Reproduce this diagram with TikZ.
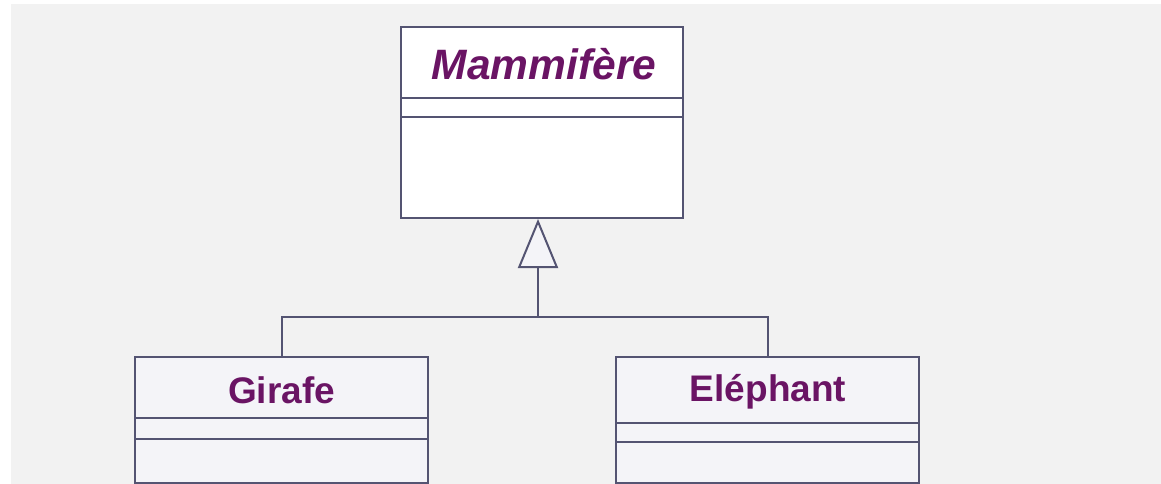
\documentclass[tikz,border=0pt]{standalone}
\usepackage{fontspec}
\setmainfont{Liberation Sans}
\usepackage{tikz}
\usetikzlibrary{arrows.meta}

\definecolor{umlline}{RGB}{84,84,114}
\definecolor{umltext}{RGB}{106,20,100}
\definecolor{papier}{RGB}{242,242,242}
\definecolor{classfill}{RGB}{244,244,248}

\begin{document}
\begin{tikzpicture}[x=1pt, y=-1pt,
    classbox/.style={draw=umlline, line width=2pt, fill=classfill, inner sep=0pt},
    classname/.style={text=umltext, anchor=base, inner sep=0pt,
        font=\fontsize{37}{40}\selectfont\bfseries},
    lien/.style={draw=umlline, line width=2pt}]
    % Fond (papier)
    \useasboundingbox (0,0) rectangle (1161,484);
    \fill[white] (0,0) rectangle (1161,484);
    \fill[papier] (11,4) rectangle (1161,484);

    % Classe abstraite
    \node[classbox, fill=white, minimum width=282pt, minimum height=191pt] (mam) at (542,122.5) {};
    \draw[lien] (mam.west |- 0,98) -- (mam.east |- 0,98);
    \draw[lien] (mam.west |- 0,117) -- (mam.east |- 0,117);
    \node[classname, font=\fontsize{42.5}{45}\selectfont\bfseries\itshape] (mamnom) at (544,80) {Mammifère};

    % Sous-classes
    \node[classbox, minimum width=293pt, minimum height=126pt] (gir) at (281.5,420) {};
    \draw[lien] (gir.west |- 0,418) -- (gir.east |- 0,418);
    \draw[lien] (gir.west |- 0,439) -- (gir.east |- 0,439);
    \node[classname] (girnom) at (281.5,403) {Girafe};

    \node[classbox, minimum width=303pt, minimum height=126pt] (ele) at (767.5,420) {};
    \draw[lien] (ele.west |- 0,423) -- (ele.east |- 0,423);
    \draw[lien] (ele.west |- 0,442) -- (ele.east |- 0,442);
    \node[classname] (elenom) at (768,401) {Eléphant};

    % Héritage
    \coordinate (jonction) at (538,317);
    \draw[lien] (gir.north) |- (jonction) -| (ele.north);
    \draw[lien, -{Triangle[fill=classfill, length=49pt, width=40pt]}] (jonction) -- (jonction |- mam.south);
\end{tikzpicture}
\end{document}
